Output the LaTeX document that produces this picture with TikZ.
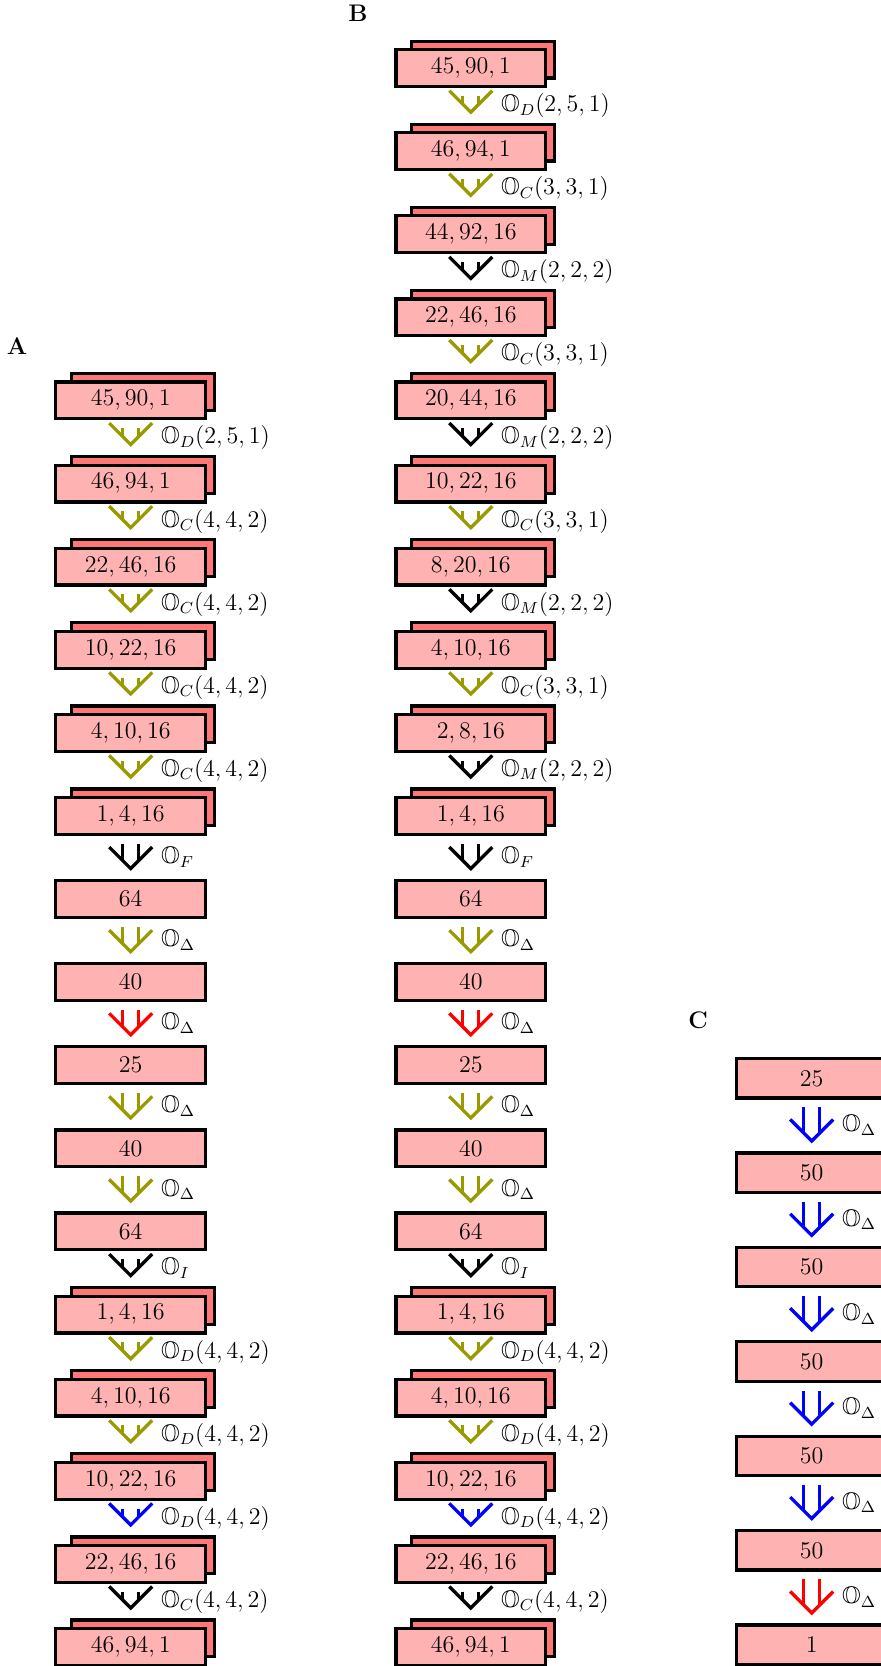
\documentclass[tikz,border=0pt]{standalone}
\usepackage{amssymb}
\usetikzlibrary{calc}
\definecolor{oliveA}{RGB}{153,153,0}
\definecolor{frontfill}{RGB}{255,178,178}
\definecolor{backfill}{RGB}{255,119,119}
\tikzset{
 every node/.style={font=\fontsize{12}{14.4}\selectfont},
 frontbox/.style={draw=black, line width=1.6pt, fill=frontfill, minimum width=74.9pt, minimum height=18.4pt, inner sep=0pt},
 backbox/.style={draw=black, line width=1.6pt, fill=backfill, minimum width=71.5pt, minimum height=18.4pt, inner sep=0pt},
 cbox/.style={frontbox, minimum height=19.75pt},
 flowline/.style={line width=1.65pt},
 flowlabel/.style={anchor=base west, inner sep=0pt},
 panel/.style={font=\fontsize{12}{14.4}\selectfont\bfseries, inner sep=0pt},
}
\newcommand{\mkD}[4]{%
  \node[backbox] (#1b) at ($(#2,#3)+(6.15pt,4.25pt)$) {};
  \node[frontbox] (#1) at (#2,#3) {$#4$};
  \coordinate (#1t) at (#1b.north -| #1.center);
}
\newcommand{\mkS}[4]{%
  \node[frontbox] (#1) at (#2,#3) {$#4$};
  \coordinate (#1t) at (#1.north);
}
\newcommand{\mkC}[4]{%
  \node[cbox] (#1) at (#2,#3) {$#4$};
  \coordinate (#1t) at (#1.north);
}
\newcommand{\flow}[4]{%
  \coordinate (#2-top) at ([yshift=-3.9pt]#2.south);
  \coordinate (#2-apex) at ([yshift=5.2pt]#3t);
  \draw[flowline,#1] ([xshift=-4pt]#2-top) -- ([xshift=-4pt,yshift=4pt]#2-apex);
  \draw[flowline,#1] ([xshift=4pt]#2-top) -- ([xshift=4pt,yshift=4pt]#2-apex);
  \draw[flowline,#1] ([xshift=-10.75pt,yshift=10.75pt]#2-apex) -- (#2-apex) -- ([xshift=10.75pt,yshift=10.75pt]#2-apex);
  \node[flowlabel] (#2-lab) at ($(#2-top)!0.5!(#2-apex)+(15pt,-3.75pt)$) {$#4$};
}
\begin{document}
\begin{tikzpicture}[x=0.5pt,y=-0.5pt]
\fill[white] (0,0) rectangle (881,1666);
\clip (0,0) rectangle (881,1666);
% panel letters
\node[panel] (LA) at (17,346) {A};
\node[panel] (LB) at (358,13) {B};
\node[panel] (LC) at (698,1020) {C};
% column A
\mkD{A0}{130.7}{400.4}{45,90,1}
\mkD{A1}{130.7}{483.5}{46,94,1}
\mkD{A2}{130.7}{566.6}{22,46,16}
\mkD{A3}{130.7}{649.7}{10,22,16}
\mkD{A4}{130.7}{732.8}{4,10,16}
\mkD{A5}{130.7}{815.9}{1,4,16}
\mkS{A6}{130.7}{899.0}{64}
\mkS{A7}{130.7}{982.1}{40}
\mkS{A8}{130.7}{1065.2}{25}
\mkS{A9}{130.7}{1148.3}{40}
\mkS{A10}{130.7}{1231.4}{64}
\mkD{A11}{130.7}{1314.5}{1,4,16}
\mkD{A12}{130.7}{1397.6}{4,10,16}
\mkD{A13}{130.7}{1480.7}{10,22,16}
\mkD{A14}{130.7}{1563.8}{22,46,16}
\mkD{A15}{130.7}{1646.9}{46,94,1}
\flow{oliveA}{A0}{A1}{\mathbb{O}_D(2,5,1)}
\flow{oliveA}{A1}{A2}{\mathbb{O}_C(4,4,2)}
\flow{oliveA}{A2}{A3}{\mathbb{O}_C(4,4,2)}
\flow{oliveA}{A3}{A4}{\mathbb{O}_C(4,4,2)}
\flow{oliveA}{A4}{A5}{\mathbb{O}_C(4,4,2)}
\flow{black}{A5}{A6}{\mathbb{O}_F}
\flow{oliveA}{A6}{A7}{\mathbb{O}_\Delta}
\flow{red}{A7}{A8}{\mathbb{O}_\Delta}
\flow{oliveA}{A8}{A9}{\mathbb{O}_\Delta}
\flow{oliveA}{A9}{A10}{\mathbb{O}_\Delta}
\flow{black}{A10}{A11}{\mathbb{O}_I}
\flow{oliveA}{A11}{A12}{\mathbb{O}_D(4,4,2)}
\flow{oliveA}{A12}{A13}{\mathbb{O}_D(4,4,2)}
\flow{blue}{A13}{A14}{\mathbb{O}_D(4,4,2)}
\flow{black}{A14}{A15}{\mathbb{O}_C(4,4,2)}
% column B
\mkD{B0}{470.8}{68.0}{45,90,1}
\mkD{B1}{470.8}{151.1}{46,94,1}
\mkD{B2}{470.8}{234.2}{44,92,16}
\mkD{B3}{470.8}{317.3}{22,46,16}
\mkD{B4}{470.8}{400.4}{20,44,16}
\mkD{B5}{470.8}{483.5}{10,22,16}
\mkD{B6}{470.8}{566.6}{8,20,16}
\mkD{B7}{470.8}{649.7}{4,10,16}
\mkD{B8}{470.8}{732.8}{2,8,16}
\mkD{B9}{470.8}{815.9}{1,4,16}
\mkS{B10}{470.8}{899.0}{64}
\mkS{B11}{470.8}{982.1}{40}
\mkS{B12}{470.8}{1065.2}{25}
\mkS{B13}{470.8}{1148.3}{40}
\mkS{B14}{470.8}{1231.4}{64}
\mkD{B15}{470.8}{1314.5}{1,4,16}
\mkD{B16}{470.8}{1397.6}{4,10,16}
\mkD{B17}{470.8}{1480.7}{10,22,16}
\mkD{B18}{470.8}{1563.8}{22,46,16}
\mkD{B19}{470.8}{1646.9}{46,94,1}
\flow{oliveA}{B0}{B1}{\mathbb{O}_D(2,5,1)}
\flow{oliveA}{B1}{B2}{\mathbb{O}_C(3,3,1)}
\flow{black}{B2}{B3}{\mathbb{O}_M(2,2,2)}
\flow{oliveA}{B3}{B4}{\mathbb{O}_C(3,3,1)}
\flow{black}{B4}{B5}{\mathbb{O}_M(2,2,2)}
\flow{oliveA}{B5}{B6}{\mathbb{O}_C(3,3,1)}
\flow{black}{B6}{B7}{\mathbb{O}_M(2,2,2)}
\flow{oliveA}{B7}{B8}{\mathbb{O}_C(3,3,1)}
\flow{black}{B8}{B9}{\mathbb{O}_M(2,2,2)}
\flow{black}{B9}{B10}{\mathbb{O}_F}
\flow{oliveA}{B10}{B11}{\mathbb{O}_\Delta}
\flow{red}{B11}{B12}{\mathbb{O}_\Delta}
\flow{oliveA}{B12}{B13}{\mathbb{O}_\Delta}
\flow{oliveA}{B13}{B14}{\mathbb{O}_\Delta}
\flow{black}{B14}{B15}{\mathbb{O}_I}
\flow{oliveA}{B15}{B16}{\mathbb{O}_D(4,4,2)}
\flow{oliveA}{B16}{B17}{\mathbb{O}_D(4,4,2)}
\flow{blue}{B17}{B18}{\mathbb{O}_D(4,4,2)}
\flow{black}{B18}{B19}{\mathbb{O}_C(4,4,2)}
% column C
\mkC{C0}{811.7}{1078.3}{25}
\mkC{C1}{811.7}{1172.7}{50}
\mkC{C2}{811.7}{1267.1}{50}
\mkC{C3}{811.7}{1361.5}{50}
\mkC{C4}{811.7}{1455.9}{50}
\mkC{C5}{811.7}{1550.3}{50}
\mkC{C6}{811.7}{1644.7}{1}
\flow{blue}{C0}{C1}{\mathbb{O}_\Delta}
\flow{blue}{C1}{C2}{\mathbb{O}_\Delta}
\flow{blue}{C2}{C3}{\mathbb{O}_\Delta}
\flow{blue}{C3}{C4}{\mathbb{O}_\Delta}
\flow{blue}{C4}{C5}{\mathbb{O}_\Delta}
\flow{red}{C5}{C6}{\mathbb{O}_\Delta}
\end{tikzpicture}
\end{document}
